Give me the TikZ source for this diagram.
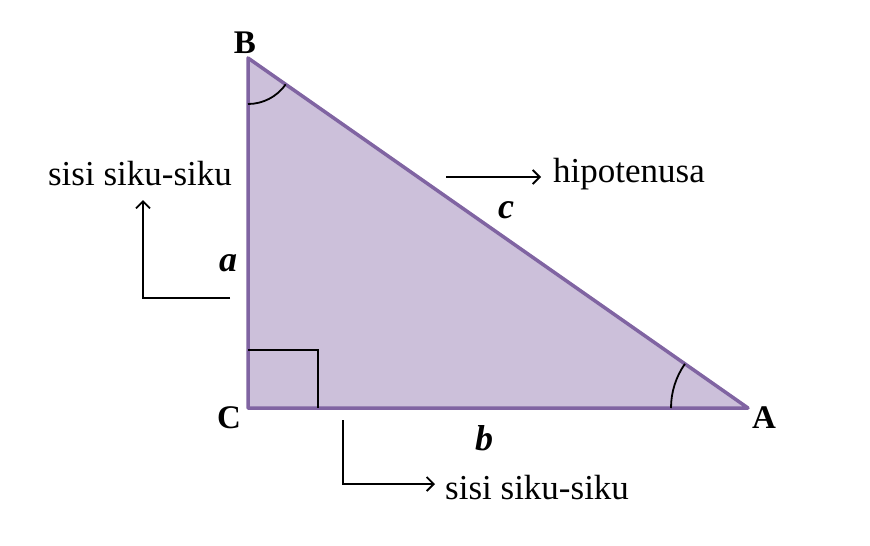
\documentclass[tikz,border=0pt]{standalone}
\usepackage{fontspec}
\setmainfont{Liberation Serif}
\usepackage{tikz}
\usetikzlibrary{calc,arrows.meta}
\definecolor{sisiline}{HTML}{8064A2}
\definecolor{sisifill}{HTML}{CCC0DA}

\begin{document}
\begin{tikzpicture}[x=1pt,y=-1pt,>={Straight Barb[length=7pt,width=14pt]},
			sisi/.style={draw=sisiline,fill=sisifill,line width=3.5pt,line join=round},
			thin/.style={line width=1.8pt},
			vertex/.style={font=\fontsize{33}{35}\selectfont\bfseries,inner sep=0pt},
			side/.style={font=\fontsize{36}{38}\selectfont\bfseries\itshape,inner sep=0pt},
			keterangan/.style={font=\fontsize{35}{38}\selectfont,inner sep=0pt,anchor=west},
			]
			\useasboundingbox (0,0) rectangle (870,546);
			
			% titik sudut
			\coordinate (B) at (248,58);
			\coordinate (C) at (248,408);
			\coordinate (A) at (748,408);
			
			% segitiga siku-siku
			\draw[sisi] (B)--(C)--(A)--cycle;
			
			% tanda sudut siku-siku di C
			\draw[thin] ($(C)+(0,-58)$)--++(70,0)--++(0,58);
			
			% busur sudut di B dan A (sumbu y terbalik)
			\draw[thin] ($(B)+(0,46)$) arc[start angle=90,end angle=35,radius=46];
			\draw[thin] ($(A)+(-77,0)$) arc[start angle=180,end angle=215,radius=77];
			
			% nama titik
			\node[vertex] (nB) at (245,43) {B};
			\node[vertex] (nC) at (229,418) {C};
			\node[vertex] (nA) at (764,418) {A};
			
			% nama sisi
			\node[side] (sa) at (228,263) {a};
			\node[side] (sb) at (484,438) {b};
			\node[side] (sc) at (506,210) {c};
			
			% keterangan
			\node[keterangan] (hipo) at (553,174) {hipotenusa};
			\node[keterangan,anchor=center] (kiri) at (140,174) {sisi siku-siku};
			\node[keterangan] (bawah) at (445,488) {sisi siku-siku};
			
			% panah keterangan
			\coordinate (hc) at (446,177);
			\draw[->,thin] (hc)--([xshift=-12pt]hc-|hipo.west);
			\coordinate (ka) at (230,298);
			\draw[->,thin] (ka)-|(143,200);
			\coordinate (bb) at (343,420);
			\draw[->,thin] (bb)|-(435,484);
		\end{tikzpicture}
\end{document}
